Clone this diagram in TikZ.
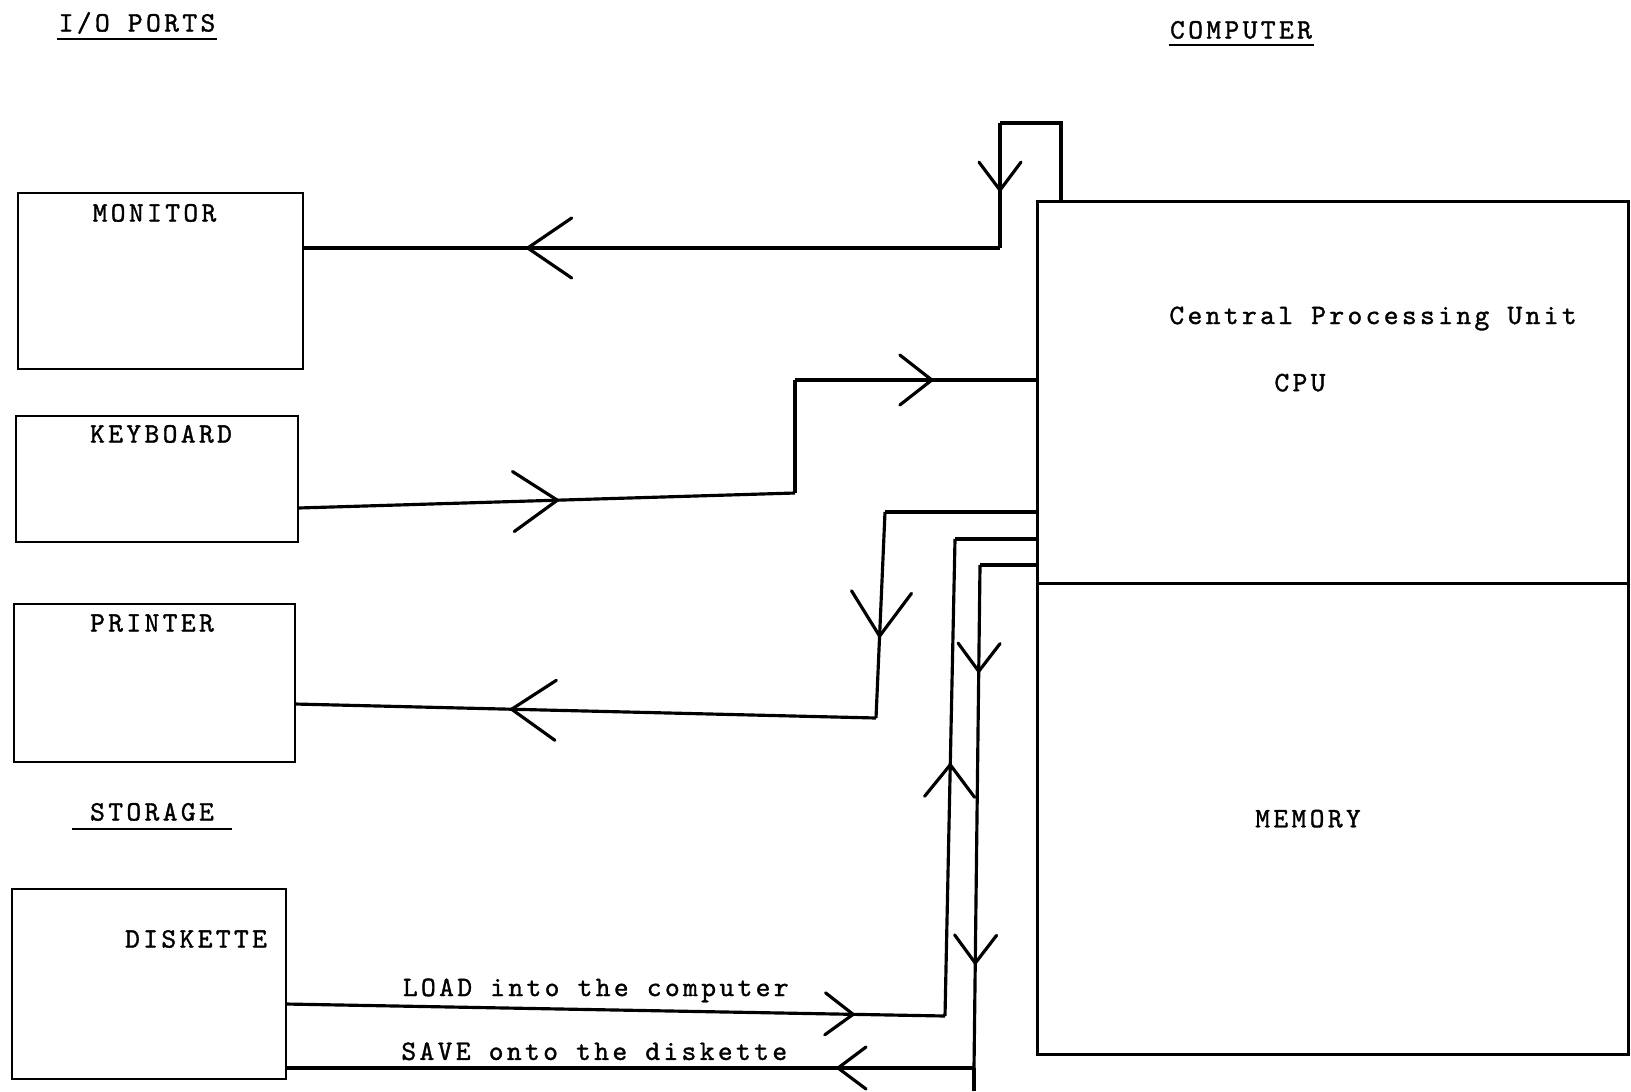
\documentclass[tikz,border=0pt]{standalone}
\usepackage{fontspec}
\newfontfamily\typewriter{lmmono10-regular.otf}[LetterSpace=12, FakeBold=1.2]
\usetikzlibrary{positioning,arrows.meta,decorations.markings}

\tikzset{
  box/.style={draw, inner sep=0pt, outer sep=0pt, line width=0.8pt},
  lbl/.style={font=\typewriter\fontsize{8}{9}\selectfont, inner sep=0pt, text height=1.7mm, text depth=0pt},
  uline/.style={line width=0.6pt},
  % open chevrons half way along a line
  flow/.style={decoration={markings, mark=at position #1 with {\arrow{Straight Barb[round, length=2.8mm, width=4.2mm]}}}, postaction={decorate}},
  midflow/.style={decoration={markings, mark=at position #1 with {\arrow{Straight Barb[round, length=3.2mm, width=5mm]}}}, postaction={decorate}},
  bigflow/.style={decoration={markings, mark=at position #1 with {\arrow{Straight Barb[round, length=4.4mm, width=6mm]}}}, postaction={decorate}},
}

\begin{document}
\begin{tikzpicture}[x=0.01cm, y=-0.01cm, line width=0.9pt]
  \useasboundingbox (0,0) rectangle (1631,1091);

  % titles
  \node[lbl] (io) at (137,23) {I/O PORTS};
  \node[lbl] (comp) at (1241,30) {COMPUTER};
  \node[lbl] (storage) at (152,812) {STORAGE};
  \draw[uline] ([yshift=-0.55mm]io.south west) -- ([yshift=-0.55mm]io.south east);
  \draw[uline] ([yshift=-0.45mm]comp.south west) -- ([yshift=-0.45mm]comp.south east);
  \draw[uline] ([xshift=-1.7mm, yshift=-0.65mm]storage.south west) -- ([xshift=1.7mm, yshift=-0.65mm]storage.south east);

  % I/O boxes
  \node[box, minimum width=2.85cm, minimum height=1.76cm] (monitor) at (160.5,281) {};
  \node[box, minimum width=2.82cm, minimum height=1.26cm] (keyboard) at (157,479) {};
  \node[box, minimum width=2.81cm, minimum height=1.58cm] (printer) at (154.5,683) {};
  \node[box, minimum width=2.74cm, minimum height=1.90cm] (diskette) at (149,984) {};
  \node[lbl, below=1mm of monitor.north, xshift=-0.6mm] (monitorlbl) {MONITOR};
  \node[lbl, below=0.8mm of keyboard.north, xshift=0.4mm] (keyboardlbl) {KEYBOARD};
  \node[lbl, below=0.9mm of printer.north, xshift=-0.25mm] (printerlbl) {PRINTER};
  \node[lbl, below=4mm of diskette.north, xshift=4.7mm] (diskettelbl) {DISKETTE};

  % computer
  \node[box, minimum width=5.9cm, minimum height=3.81cm] (cpu) at (1333,392.5) {};
  \node[box, minimum width=5.9cm, minimum height=4.71cm, below=0pt of cpu] (memory) {};
  \node[lbl, below=10.35mm of cpu.north, xshift=4mm] (cpuname) {Central Processing Unit};
  \node[lbl, below=4.7mm of cpuname, xshift=-7.3mm] (cpulbl) {CPU};
  \node[lbl, xshift=-2.5mm] (memlbl) at (memory) {MEMORY};

  % monitor
  \coordinate (m1) at (1061,123);
  \coordinate (m2) at (1000,123);
  \coordinate (m3) at (1000,248);
  \draw (cpu.north west -| m1) -- (m1) -- (m2);
  \draw[flow=0.55] (m2) -- (m3);
  \draw[bigflow=0.68] (m3) -- (m3 -| monitor.east);

  % keyboard
  \coordinate (k1) at (795,493);
  \coordinate (k2) at (795,380);
  \draw[bigflow=0.525] ([yshift=-2.9mm]keyboard.east) -- (k1);
  \draw (k1) -- (k2);
  \draw[midflow=0.57] (k2) -- (k2 -| cpu.west);

  % printer
  \coordinate (p1) at (885,512);
  \coordinate (p2) at (876,718);
  \draw (p1 -| cpu.west) -- (p1);
  \draw[bigflow=0.61] (p1) -- (p2);
  \draw[bigflow=0.63] (p2) -- ([yshift=-2.1mm]printer.east);

  % load
  \coordinate (l1) at (945,1016);
  \coordinate (l2) at (955,539);
  \draw[flow=0.863] ([yshift=-2mm]diskette.east) -- node[lbl, above=1.2mm, pos=0.47] (load) {LOAD into the computer} (l1);
  \draw[midflow=0.53] (l1) -- (l2);
  \draw (l2) -- (l2 -| cpu.west);

  % save
  \coordinate (s1) at (980,565);
  \coordinate (s2) at (977,816);
  \coordinate (s3) at (974,1068);
  \coordinate (s4) at (974,1091);
  \draw (s1 -| cpu.west) -- (s1);
  \draw[flow=0.43] (s1) -- (s2);
  \draw[flow=0.59] (s2) -- (s3);
  \draw (s3) -- (s4);
  \draw[flow=0.2] (s3) -- node[lbl, above=0.65mm, pos=0.552] (save) {SAVE onto the diskette} (s3 -| diskette.east);
\end{tikzpicture}
\end{document}
